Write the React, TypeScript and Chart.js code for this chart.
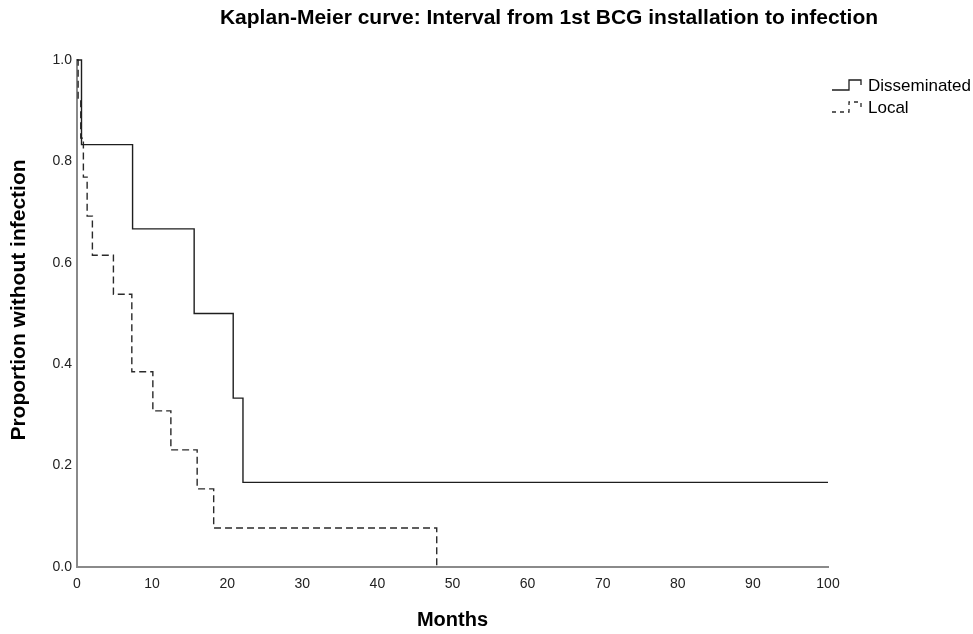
import React, { useEffect, useRef } from "react";
import { Chart, registerables } from "chart.js";

Chart.register(...registerables);

const chartTitle = "Kaplan-Meier curve: Interval from 1st BCG installation to infection";
const xAxisTitle = "Months";
const yAxisTitle = "Proportion without infection";
const seriesLabels = ["Disseminated", "Local"];

const disseminatedMonths = [0, 0.6, 7.4, 15.6, 20.8, 22.1, 100];
const disseminatedSurvival = [1.0, 0.833, 0.667, 0.5, 0.333, 0.167, 0.167];

const localMonths = [0, 0.15, 0.5, 0.85, 1.35, 2.05, 4.85, 7.3, 10.1, 12.5, 16.0, 18.2, 47.9];
const localSurvival = [1.0, 0.923, 0.846, 0.769, 0.692, 0.615, 0.538, 0.385, 0.308, 0.231, 0.154, 0.077, 0.0];

const xMin = 0;
const xMax = 100;
const xStep = 10;
const yMin = 0;
const yMax = 1;
const yStep = 0.2;

const FONT = "'Liberation Sans', Arial, sans-serif";
const SOLID_COLOR = "#1e1e1e";
const DASH_COLOR = "#2a2a2a";
const AXIS_COLOR = "#8a8a8a";
const DASH = [7, 4];

const textPlugin = {
  id: "kmText",
  afterDraw(chart: any) {
    const ctx = chart.ctx;
    const area = chart.chartArea;
    ctx.save();
    ctx.fillStyle = "#000";
    // main title
    ctx.font = `bold 21px ${FONT}`;
    ctx.textAlign = "center";
    ctx.textBaseline = "middle";
    ctx.fillText(chartTitle, 549, 18);
    // x axis title
    ctx.font = `bold 20px ${FONT}`;
    ctx.fillText(xAxisTitle, (area.left + area.right) / 2, 620);
    // y axis title
    ctx.font = `bold 21px ${FONT}`;
    ctx.save();
    ctx.translate(19, 300);
    ctx.rotate(-Math.PI / 2);
    ctx.fillText(yAxisTitle, 0, 0);
    ctx.restore();

    // legend
    const symbolLeft = 832;
    seriesLabels.forEach((label, i) => {
      const ty = 86 + i * 22;
      const base = ty + 4;
      const top = ty - 6;
      ctx.beginPath();
      ctx.lineWidth = 1.3;
      ctx.strokeStyle = i === 0 ? SOLID_COLOR : DASH_COLOR;
      ctx.setLineDash(i === 0 ? [] : [4, 4]);
      ctx.moveTo(symbolLeft, base);
      ctx.lineTo(symbolLeft + 17, base);
      ctx.lineTo(symbolLeft + 17, top);
      ctx.lineTo(symbolLeft + 29, top);
      ctx.lineTo(symbolLeft + 29, top + 5);
      ctx.stroke();
      ctx.setLineDash([]);
      ctx.fillStyle = "#000";
      ctx.font = `17px ${FONT}`;
      ctx.textAlign = "left";
      ctx.textBaseline = "middle";
      ctx.fillText(label, 868, ty);
    });
    ctx.restore();
  },
};

export default function App() {
  const canvasRef = useRef<HTMLCanvasElement | null>(null);

  useEffect(() => {
    const canvas = canvasRef.current;
    if (!canvas) return;
    const chart = new Chart(canvas, {
      type: "line",
      data: {
        datasets: [
          {
            label: seriesLabels[0],
            data: disseminatedMonths.map((m, i) => ({ x: m, y: disseminatedSurvival[i] })),
            stepped: "before",
            borderColor: SOLID_COLOR,
            borderWidth: 1.4,
            pointRadius: 0,
            fill: false,
            clip: false as any,
          },
          {
            label: seriesLabels[1],
            data: localMonths.map((m, i) => ({ x: m, y: localSurvival[i] })),
            stepped: "before",
            borderColor: DASH_COLOR,
            borderWidth: 1.4,
            borderDash: DASH,
            pointRadius: 0,
            fill: false,
            clip: false as any,
          },
        ],
      },
      options: {
        animation: false,
        responsive: false,
        maintainAspectRatio: false,
        layout: { padding: { left: 0, right: 145, top: 60, bottom: 0 } },
        plugins: {
          legend: { display: false },
          title: { display: false },
          tooltip: { enabled: false },
        },
        scales: {
          x: {
            type: "linear",
            min: xMin,
            max: xMax,
            grid: { display: false, drawTicks: false },
            border: { display: true, color: AXIS_COLOR, width: 2 },
            ticks: {
              stepSize: xStep,
              padding: 9,
              color: "#222",
              font: { family: FONT, size: 14 },
              maxRotation: 0,
            },
            afterFit: (scale: any) => {
              scale.height = 67;
            },
          },
          y: {
            type: "linear",
            min: yMin,
            max: yMax,
            grid: { display: false, drawTicks: false },
            border: { display: true, color: AXIS_COLOR, width: 2 },
            ticks: {
              stepSize: yStep,
              padding: 5,
              color: "#222",
              font: { family: FONT, size: 14 },
              callback: (v: any) => Number(v).toFixed(1),
            },
            afterFit: (scale: any) => {
              scale.width = 77;
            },
          },
        },
      },
      plugins: [textPlugin],
    });
    return () => chart.destroy();
  }, []);

  return (
    <div style={{ position: "fixed", left: 0, top: 0, width: 973, height: 634, background: "#fff" }}>
      <canvas ref={canvasRef} width={973} height={634} style={{ width: 973, height: 634, display: "block" }} />
    </div>
  );
}
